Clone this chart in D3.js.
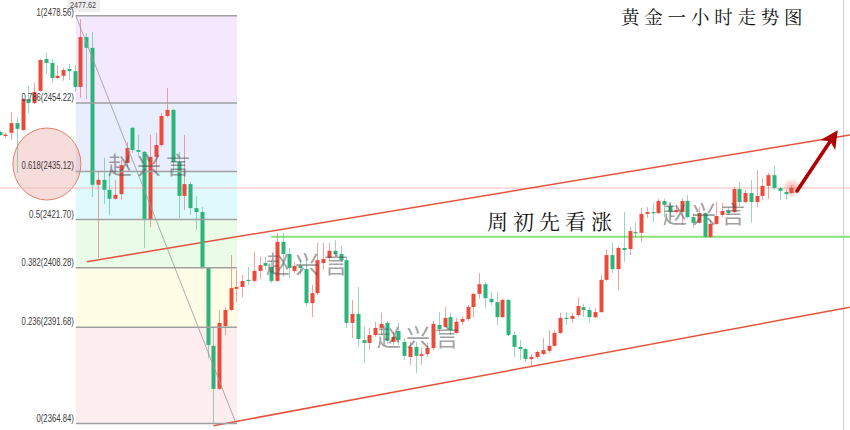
<!DOCTYPE html>
<html>
<head>
<meta charset="utf-8">
<script src="https://cdn.jsdelivr.net/npm/d3@7"></script>
<style>
  html, body { margin: 0; padding: 0; background: #fff; }
  svg { display: block; }
</style>
</head>
<body>
<svg id="chart" width="850" height="430"></svg>
<script>
// XAUUSD 1-hour candles (oldest first)
const opens = [2446.1,2445.0,2445.9,2448.6,2446.7,2455.3,2454.2,2457.6,2466.5,2465.4,2461.2,2461.8,2463.7,2463.1,2458.7,2472.6,2469.6,2431.4,2432.8,2430.0,2427.5,2428.8,2437.5,2447.3,2441.1,2440.6,2421.6,2439.2,2442.5,2450.6,2452.3,2437.8,2428.3,2431.6,2424.9,2423.8,2408.2,2386.5,2374.5,2392.0,2396.5,2402.4,2402.9,2404.9,2404.6,2407.4,2409.6,2408.5,2404.6,2415.5,2412.1,2407.4,2408.8,2407.9,2398.4,2401.2,2409.6,2411.0,2413.0,2412.1,2410.4,2392.9,2395.4,2388.1,2387.3,2389.5,2391.5,2392.9,2387.6,2390.6,2387.6,2383.4,2386.2,2383.7,2384.2,2385.9,2392.3,2391.8,2394.5,2390.1,2393.2,2394.0,2397.3,2401.0,2403.7,2399.6,2398.7,2394.5,2399.3,2389.5,2386.2,2385.6,2382.8,2383.4,2384.2,2385.1,2386.5,2390.1,2394.3,2394.0,2395.1,2397.3,2396.5,2394.5,2395.9,2404.9,2411.8,2407.9,2413.8,2413.5,2418.2,2418.0,2423.3,2423.8,2423.5,2426.9,2425.5,2423.8,2423.8,2426.9,2422.4,2420.8,2423.5,2416.9,2420.5,2423.0,2424.1,2423.8,2430.2,2426.6,2429.1,2426.6,2428.3,2431.1,2434.1,2430.5,2429.4,2429.1];
const highs = [2446.4,2445.9,2451.7,2450.3,2455.6,2459.0,2459.8,2466.5,2468.2,2466.5,2464.8,2464.0,2465.1,2464.8,2477.6,2473.7,2474.0,2435.0,2438.9,2434.7,2432.8,2438.3,2443.3,2447.5,2445.3,2440.8,2445.3,2445.9,2451.4,2458.4,2452.5,2440.6,2445.3,2432.2,2428.3,2425.2,2408.4,2391.8,2396.5,2397.3,2411.8,2407.6,2406.3,2408.5,2412.7,2411.3,2411.3,2410.4,2418.0,2418.0,2413.8,2409.9,2410.4,2410.4,2403.5,2415.2,2415.2,2415.2,2416.0,2414.3,2411.0,2399.3,2402.9,2391.8,2391.5,2393.2,2395.7,2393.4,2390.4,2392.9,2388.7,2387.6,2387.6,2385.9,2387.3,2393.4,2395.9,2397.3,2395.7,2394.3,2394.8,2397.9,2401.2,2406.8,2404.3,2401.5,2401.5,2399.6,2399.6,2390.4,2388.1,2385.9,2384.2,2385.3,2388.7,2390.9,2390.9,2395.7,2395.9,2395.7,2400.1,2398.2,2397.3,2397.1,2406.3,2413.5,2415.2,2414.3,2423.8,2419.6,2420.8,2424.9,2425.2,2426.3,2427.5,2427.5,2426.3,2425.8,2427.7,2428.6,2423.5,2425.2,2423.8,2421.6,2426.6,2426.3,2425.2,2430.8,2432.2,2430.0,2432.8,2435.5,2433.3,2434.7,2436.7,2430.8,2430.0,2431.1];
const lows = [2445.0,2444.5,2443.9,2434.7,2446.4,2451.4,2453.9,2457.3,2462.3,2459.8,2460.9,2460.4,2460.6,2457.3,2455.6,2455.3,2428.0,2411.0,2426.1,2423.0,2427.2,2427.2,2436.4,2440.3,2439.4,2413.8,2419.6,2434.7,2442.0,2450.3,2434.7,2422.2,2424.4,2423.0,2418.8,2408.0,2383.1,2364.8,2374.2,2389.5,2396.2,2398.7,2400.1,2403.5,2404.3,2405.1,2407.7,2404.0,2404.3,2405.7,2405.4,2406.8,2406.3,2397.6,2394.5,2400.7,2407.7,2410.4,2411.3,2409.9,2391.5,2388.7,2386.2,2381.7,2385.3,2389.0,2389.5,2387.0,2386.7,2386.7,2382.6,2381.2,2378.9,2381.2,2383.4,2385.3,2389.5,2391.5,2389.5,2389.8,2392.3,2393.4,2394.5,2399.6,2397.1,2397.9,2392.3,2394.3,2389.2,2383.4,2382.6,2382.0,2380.9,2382.8,2383.9,2384.5,2386.2,2389.8,2392.3,2392.9,2394.5,2394.5,2392.9,2394.3,2395.7,2404.6,2406.8,2402.1,2409.9,2411.8,2416.6,2415.5,2422.2,2421.0,2423.3,2422.4,2422.2,2423.5,2420.2,2422.2,2419.4,2420.5,2416.6,2416.6,2420.2,2422.4,2423.0,2423.5,2425.5,2426.3,2420.8,2425.2,2427.2,2427.5,2430.0,2427.2,2427.2,2428.9];
const closes = [2445.3,2445.4,2448.6,2447.0,2455.3,2454.2,2457.3,2466.2,2465.4,2461.2,2461.8,2463.4,2463.1,2458.7,2472.6,2469.6,2431.4,2432.8,2430.0,2427.5,2428.6,2436.9,2441.7,2441.1,2440.6,2421.6,2439.2,2442.5,2450.6,2452.3,2437.8,2428.3,2431.6,2424.9,2423.8,2408.2,2386.7,2374.5,2392.9,2396.5,2402.6,2402.9,2404.6,2404.6,2407.4,2409.0,2408.8,2404.6,2415.5,2412.1,2408.2,2408.8,2408.2,2398.4,2401.2,2410.4,2410.7,2413.0,2412.1,2410.4,2392.9,2395.4,2388.4,2387.3,2389.5,2391.5,2392.6,2387.9,2389.0,2388.1,2383.7,2386.2,2383.7,2384.2,2385.9,2392.6,2391.2,2394.3,2390.9,2393.2,2394.0,2397.3,2401.0,2403.7,2399.8,2398.7,2394.5,2399.3,2389.5,2386.2,2385.6,2382.8,2383.4,2384.8,2385.3,2386.5,2390.1,2394.3,2394.0,2394.8,2397.6,2396.5,2394.5,2395.9,2404.9,2411.8,2407.9,2413.8,2413.2,2418.5,2418.0,2423.3,2423.8,2423.5,2426.9,2425.8,2423.8,2424.4,2426.9,2422.4,2420.8,2423.5,2416.9,2420.5,2422.7,2424.1,2423.5,2430.2,2426.6,2429.1,2426.6,2428.3,2431.1,2434.1,2430.5,2429.7,2428.8,2430.5];

// Fibonacci retracement of the swing high 2478.56 -> low 2364.84
const fibRatios = ["1", "0.786", "0.618", "0.5", "0.382", "0.236", "0"];
const fibValues = [2478.56, 2454.22, 2435.12, 2421.70, 2408.28, 2391.68, 2364.84];
const fibSpan = [13.2, 41.1];          // bar index range of the retracement box
const peakValue = 2477.62;              // swing-high price tag
const peakIndex = 14;

// Drawn levels and channel (bar index, price)
const supportLevel = 2416.9;
const supportFrom = 47;
const upperChannel = [[15.1, 2409.96], [147.1, 2445.29]];
const lowerChannel = [[37.0, 2364.23], [147.1, 2397.28]];
const arrowPath = [[137.97, 2429.7], [144.5, 2445.4]];
const circleAt = [8.2, 2437.2];

const titleText = "黄金一小时走势图";
const noteText = "周初先看涨";
const markText = "赵兴言";

// ---------------------------------------------------------------
const W = 850, H = 430;
const svg = d3.select("#chart");
const x = d3.scaleLinear().domain([0, 147]).range([-0.48, 849.18]);
const y = d3.scaleLinear().domain([2364.84, 2478.56]).range([423.5, 15.7]);

const UP = "#ea4a3a", DOWN = "#2db47a";
const bandFills = ["#f3e8fd", "#e8eefd", "#e0f9fc", "#eafbe8", "#fffde6", "#fdedef"];
const latin = "Liberation Sans, Arial, sans-serif";

// retracement bands
const fx0 = x(fibSpan[0]), fx1 = x(fibSpan[1]);
const bands = d3.pairs(fibValues);
svg.append("g").selectAll("rect").data(bands).join("rect")
  .attr("x", fx0).attr("width", fx1 - fx0)
  .attr("y", d => y(d[0])).attr("height", d => y(d[1]) - y(d[0]))
  .attr("fill", (d, i) => bandFills[i]);

// retracement level lines
const fib = svg.append("g");
fib.selectAll("line").data(fibValues).join("line")
  .attr("x1", fx0).attr("x2", fx1)
  .attr("y1", d => y(d)).attr("y2", d => y(d))
  .attr("stroke", "#a0a0a0").attr("stroke-width", 1.5);

// highlight circle on the 0.618 level
svg.append("ellipse")
  .attr("cx", x(circleAt[0])).attr("cy", y(circleAt[1]))
  .attr("rx", 34).attr("ry", 36)
  .attr("fill", "rgba(232,150,150,0.33)")
  .attr("stroke", "#e3806d").attr("stroke-width", 1);

// last price line
const last = closes[closes.length - 1];
svg.append("line")
  .attr("x1", 0).attr("x2", W)
  .attr("y1", y(last)).attr("y2", y(last))
  .attr("stroke", "#f6bcbc").attr("stroke-width", 1);

// right border
svg.append("line")
  .attr("x1", 843.5).attr("x2", 843.5).attr("y1", 0).attr("y2", H)
  .attr("stroke", "#cfcfdb").attr("stroke-width", 1);

// channel
const line = d3.line().x(d => x(d[0])).y(d => y(d[1]));
svg.append("g").selectAll("path").data([upperChannel, lowerChannel]).join("path")
  .attr("d", line).attr("fill", "none")
  .attr("stroke", "#e4533b").attr("stroke-width", 1.5);

// support level
svg.append("line")
  .attr("x1", x(supportFrom)).attr("x2", W)
  .attr("y1", y(supportLevel)).attr("y2", y(supportLevel))
  .attr("stroke", "#84e276").attr("stroke-width", 2);

// glow behind the last bar
const defs = svg.append("defs");
const glow = defs.append("radialGradient").attr("id", "glow");
glow.append("stop").attr("offset", "0%").attr("stop-color", "rgba(240,90,90,0.55)");
glow.append("stop").attr("offset", "100%").attr("stop-color", "rgba(240,90,90,0)");
svg.append("circle")
  .attr("cx", x(closes.length - 1) + 0.5).attr("cy", y(last))
  .attr("r", 10).attr("fill", "url(#glow)");

// candles
const bars = d3.range(opens.length).map(i => ({
  i, o: opens[i], h: highs[i], l: lows[i], c: closes[i], up: closes[i] >= opens[i]
}));
const cg = svg.append("g").selectAll("g").data(bars).join("g");
cg.append("line")
  .attr("x1", d => Math.round(x(d.i)) + 0.5).attr("x2", d => Math.round(x(d.i)) + 0.5)
  .attr("y1", d => y(d.h)).attr("y2", d => y(d.l))
  .attr("stroke", d => d.up ? UP : DOWN).attr("stroke-opacity", 0.5).attr("stroke-width", 1);
cg.append("rect")
  .attr("x", d => Math.round(x(d.i)) - 1.5).attr("width", 4)
  .attr("y", d => y(Math.max(d.o, d.c)))
  .attr("height", d => Math.max(1.2, Math.abs(y(d.o) - y(d.c))))
  .attr("fill", d => d.up ? UP : DOWN);

// retracement diagonal
svg.append("line")
  .attr("x1", fx0).attr("y1", y(fibValues[0]))
  .attr("x2", fx1 - 1).attr("y2", y(fibValues[fibValues.length - 1]))
  .attr("stroke", "#9a9a9a").attr("stroke-opacity", 0.8).attr("stroke-width", 1);

// swing-high price tag
const tagX = x(peakIndex) + 1.5;
svg.append("rect").attr("x", tagX - 15).attr("y", 0).attr("width", 33).attr("height", 12)
  .attr("fill", "#ececec").attr("opacity", 0.85);
svg.append("text").attr("x", tagX + 1).attr("y", 7.5)
  .attr("text-anchor", "middle")
  .attr("font-family", latin)
  .attr("font-size", 9).attr("fill", "#444")
  .text(peakValue.toFixed(2))
  .attr("textLength", 26).attr("lengthAdjust", "spacingAndGlyphs");

// retracement labels (drawn above the price tag)
fib.append("g").selectAll("text").data(fibValues).join("text")
  .attr("x", fx0 - 2).attr("y", (d, i) => y(d) - (i === 0 ? 0 : 2))
  .attr("text-anchor", "end")
  .attr("font-family", latin)
  .attr("font-size", 10)
  .attr("fill", "#3a3a3a")
  .text((d, i) => `${fibRatios[i]}(${d.toFixed(2)})`)
  .attr("textLength", function () { return this.textContent.length * 3.73; })
  .attr("lengthAdjust", "spacingAndGlyphs");
svg.node().appendChild(fib.node());

// arrow
defs.append("marker").attr("id", "head")
  .attr("viewBox", "0 0 10 10").attr("refX", 7).attr("refY", 5)
  .attr("markerWidth", 5).attr("markerHeight", 5)
  .attr("markerUnits", "strokeWidth").attr("orient", "auto")
  .append("path").attr("d", "M0,0 L10,5 L0,10 L2.5,5 Z").attr("fill", "#b00000");
svg.append("path")
  .attr("d", line(arrowPath))
  .attr("stroke", "#b00000").attr("stroke-width", 3.6).attr("stroke-linecap", "round")
  .attr("fill", "none").attr("marker-end", "url(#head)");

// watermarks
const cjk = "'Noto Serif CJK SC', 'Noto Sans CJK SC', sans-serif";
const marks = [[108, 174], [266, 273], [377, 346], [663, 223]];
svg.append("g").selectAll("text").data(marks).join("text")
  .attr("x", d => d[0]).attr("y", d => d[1])
  .attr("font-family", "'Noto Sans CJK SC', sans-serif")
  .attr("font-size", 24).attr("letter-spacing", 5)
  .attr("fill", "rgba(80,80,80,0.55)")
  .text(markText);

// title and note
svg.append("text").attr("x", 621).attr("y", 24)
  .attr("font-family", cjk).attr("font-size", 18.5).attr("letter-spacing", 4.8)
  .attr("fill", "#111").text(titleText);
svg.append("text").attr("x", 487).attr("y", 229)
  .attr("font-family", cjk).attr("font-size", 21).attr("letter-spacing", 5)
  .attr("fill", "#111").text(noteText);
</script>
</body>
</html>
